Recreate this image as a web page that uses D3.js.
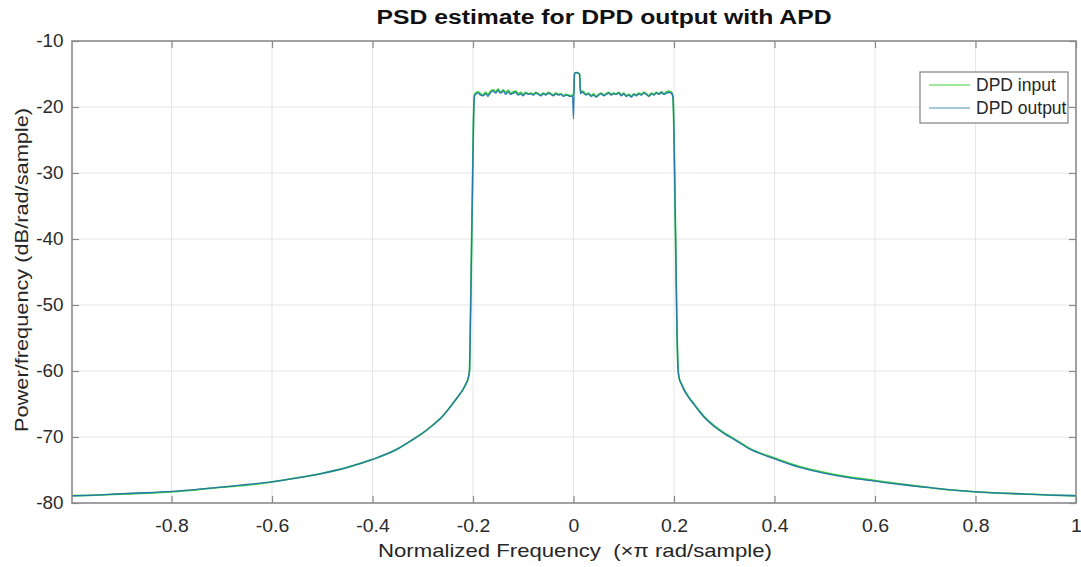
<!DOCTYPE html>
<html>
<head>
<meta charset="utf-8">
<script src="https://cdn.jsdelivr.net/npm/d3@7"></script>
<style>
  html, body { margin: 0; padding: 0; background: #fff; }
  svg { display: block; }
  text { font-family: "Liberation Sans", Arial, Helvetica, sans-serif; }
</style>
</head>
<body>
<svg id="chart" width="1081" height="567"></svg>
<script>
// ---------------- data ----------------
const chartTitle = "PSD estimate for DPD output with APD";
const xLabel = "Normalized Frequency  (\u00D7\u03C0 rad/sample)";
const yLabel = "Power/frequency (dB/rad/sample)";
const seriesNames = ["DPD input", "DPD output"];
const xTicks = [-0.8, -0.6, -0.4, -0.2, 0, 0.2, 0.4, 0.6, 0.8, 1];
const yTicks = [-80, -70, -60, -50, -40, -30, -20, -10];

// normalized frequency (x pi rad/sample)
const freq = [
  -0.998, -0.95, -0.9, -0.85, -0.8, -0.75, -0.7, -0.65, -0.6, -0.55, -0.5, -0.45, -0.4, -0.35,
  -0.32, -0.3, -0.28, -0.26, -0.25, -0.24, -0.23, -0.22, -0.215, -0.21, -0.207, -0.205, -0.203, -0.201, -0.199, -0.197,
  -0.195, -0.19, -0.185, -0.18, -0.175, -0.17, -0.165, -0.16, -0.155, -0.15, -0.145, -0.14, -0.135, -0.13,
  -0.125, -0.12, -0.115, -0.11, -0.105, -0.1, -0.095, -0.09, -0.085, -0.08, -0.075, -0.07, -0.065, -0.06,
  -0.055, -0.05, -0.045, -0.04, -0.035, -0.03, -0.025, -0.02, -0.015, -0.01, -0.005, -0.002, 0.0,
  0.002, 0.004, 0.007, 0.010, 0.012, 0.014, 0.017, 0.02, 0.025, 0.03, 0.035, 0.04, 0.045, 0.05, 0.055,
  0.06, 0.065, 0.07, 0.075, 0.08, 0.085, 0.09, 0.095, 0.1, 0.105, 0.11, 0.115, 0.12, 0.125, 0.13,
  0.135, 0.14, 0.145, 0.15, 0.155, 0.16, 0.165, 0.17, 0.175, 0.18, 0.185, 0.19, 0.195,
  0.198, 0.2, 0.202, 0.204, 0.206, 0.208, 0.21, 0.215, 0.22, 0.23, 0.24, 0.25, 0.26, 0.28, 0.3, 0.32,
  0.35, 0.4, 0.45, 0.5, 0.55, 0.6, 0.65, 0.7, 0.75, 0.8, 0.85, 0.9, 0.95, 1.0
];

// PSD of DPD input (dB/rad/sample)
const psdInput = [
  -78.9, -78.8, -78.65, -78.5, -78.3, -78.0, -77.6, -77.3, -76.8, -76.2, -75.5, -74.6, -73.4, -71.8,
  -70.4, -69.4, -68.2, -66.8, -65.9, -64.9, -63.9, -62.8, -62.1, -61.2, -60.0, -52.0, -42.0, -32.0, -22.0, -18.2,
  -17.9, -17.7, -18.0, -18.2, -17.8, -18.1, -17.6, -17.4, -17.7, -17.3, -17.8, -17.4, -17.8, -17.5,
  -17.9, -17.7, -17.6, -18.0, -17.8, -18.1, -17.8, -18.0, -17.9, -18.1, -17.8, -18.0, -18.2, -17.9,
  -18.1, -17.8, -18.0, -18.2, -17.9, -18.1, -18.0, -18.3, -18.1, -18.2, -18.3, -18.2, -18.2,
  -15.0, -14.8, -14.8, -14.9, -15.0, -17.9, -17.6, -17.7, -18.1, -17.9, -18.3, -18.0, -18.4, -18.1, -17.9,
  -18.2, -18.0, -17.8, -18.1, -17.9, -18.0, -17.8, -18.2, -17.9, -18.3, -18.1, -18.4, -18.0, -18.2, -17.9,
  -18.1, -17.8, -18.0, -18.3, -17.9, -18.1, -17.8, -18.0, -17.7, -18.0, -17.7, -17.6, -17.8,
  -18.5, -24.0, -34.0, -44.0, -54.0, -59.5, -61.0, -62.0, -62.8, -64.0, -65.0, -66.0, -66.9, -68.3, -69.4, -70.3,
  -71.7, -73.2, -74.5, -75.4, -76.1, -76.6, -77.1, -77.6, -78.0, -78.3, -78.5, -78.65, -78.8, -78.9
];

// PSD of DPD output (dB/rad/sample)
const psdOutput = [
  -78.9, -78.8, -78.6, -78.45, -78.25, -77.95, -77.6, -77.2, -76.8, -76.2, -75.5, -74.6, -73.4, -71.8,
  -70.4, -69.4, -68.2, -66.8, -65.9, -64.9, -63.9, -62.8, -62.1, -61.2, -60.0, -52.0, -42.0, -32.0, -22.0, -18.3,
  -18.1, -17.9, -18.2, -18.3, -18.0, -18.4, -17.8, -17.6, -17.9, -17.5, -17.9, -17.6, -18.1, -17.7,
  -18.1, -17.9, -17.8, -18.2, -18.0, -18.3, -17.9, -18.1, -18.0, -18.2, -17.9, -18.1, -18.3, -18.0,
  -18.2, -17.9, -18.1, -18.3, -18.0, -18.2, -18.1, -18.4, -18.2, -18.3, -18.4, -18.3, -21.8,
  -15.0, -14.8, -14.8, -14.9, -15.0, -18.0, -17.7, -17.9, -18.2, -18.0, -18.4, -18.2, -18.5, -18.2, -18.0,
  -18.3, -18.1, -17.9, -18.2, -18.0, -18.1, -17.9, -18.3, -18.0, -18.4, -18.2, -18.5, -18.1, -18.3, -18.0,
  -18.2, -17.9, -18.1, -18.4, -18.0, -18.2, -17.9, -18.1, -17.8, -18.1, -17.9, -17.8, -17.9,
  -18.6, -24.0, -34.0, -44.0, -54.0, -59.5, -61.0, -62.0, -62.9, -64.1, -65.1, -66.1, -67.0, -68.4, -69.5, -70.4,
  -71.8, -73.3, -74.6, -75.5, -76.2, -76.7, -77.2, -77.6, -78.0, -78.3, -78.5, -78.65, -78.8, -78.9
];

// ---------------- chart ----------------
const plot = { left: 72, right: 1076, top: 41, bottom: 503 };
const svg = d3.select("#chart");

const x = d3.scaleLinear().domain([-0.998, 1]).range([plot.left, plot.right]);
const y = d3.scaleLinear().domain([-80, -10]).range([plot.bottom, plot.top]);

const gridColor = "#e6e6e6";
const axisColor = "#8a8a8a";
const tickTextColor = "#2b2b2b";

// grid
const grid = svg.append("g");
grid.selectAll("line.vx").data(xTicks.filter(d => d < 1)).enter().append("line")
  .attr("x1", d => x(d)).attr("x2", d => x(d))
  .attr("y1", plot.top).attr("y2", plot.bottom)
  .attr("stroke", gridColor).attr("stroke-width", 1);
grid.selectAll("line.hy").data(yTicks.filter(d => d > -80 && d < -10)).enter().append("line")
  .attr("x1", plot.left).attr("x2", plot.right)
  .attr("y1", d => y(d)).attr("y2", d => y(d))
  .attr("stroke", gridColor).attr("stroke-width", 1);

// series
const rows = freq.map((f, i) => ({ f, a: psdInput[i], b: psdOutput[i] }));
const lineA = d3.line().x(d => x(d.f)).y(d => y(d.a)).curve(d3.curveMonotoneX);
const lineB = d3.line().x(d => x(d.f)).y(d => y(d.b)).curve(d3.curveMonotoneX);
svg.append("clipPath").attr("id", "clip").append("rect")
  .attr("x", plot.left).attr("y", plot.top)
  .attr("width", plot.right - plot.left).attr("height", plot.bottom - plot.top);
const colors = ["#3dcc48", "#2574ac"];
svg.append("path").datum(rows).attr("d", lineA)
  .attr("fill", "none").attr("stroke", colors[0]).attr("stroke-width", 1.8)
  .attr("clip-path", "url(#clip)");
svg.append("path").datum(rows).attr("d", lineB)
  .attr("fill", "none").attr("stroke", colors[1]).attr("stroke-width", 1.3)
  .attr("stroke-opacity", 0.95)
  .attr("clip-path", "url(#clip)");

// axes (MATLAB-style box with inward ticks)
const tickLen = 7;
const fmt = d => String(d);
const xAxisB = d3.axisBottom(x).tickValues(xTicks).tickSize(-tickLen).tickPadding(16).tickFormat(fmt);
const xAxisT = d3.axisTop(x).tickValues(xTicks).tickSize(-tickLen).tickFormat("");
const yAxisL = d3.axisLeft(y).tickValues(yTicks).tickSize(-tickLen).tickPadding(8).tickFormat(fmt);
const yAxisR = d3.axisRight(y).tickValues(yTicks).tickSize(-tickLen).tickFormat("");

function styleAxis(g, sx) {
  g.select(".domain").remove();
  g.selectAll(".tick line").attr("stroke", axisColor).attr("stroke-width", 1.2);
  g.selectAll(".tick text").attr("fill", tickTextColor).attr("font-size", 18)
    .attr("font-family", "Liberation Sans, Arial, sans-serif")
    .attr("transform", `scale(${sx},1)`);
}
svg.append("g").attr("transform", `translate(0,${plot.bottom})`).call(xAxisB).call(styleAxis, 1.08);
svg.append("g").attr("transform", `translate(0,${plot.top})`).call(xAxisT).call(styleAxis, 1);
svg.append("g").attr("transform", `translate(${plot.left},0)`).call(yAxisL).call(styleAxis, 1.05);
svg.append("g").attr("transform", `translate(${plot.right},0)`).call(yAxisR).call(styleAxis, 1);

svg.append("rect")
  .attr("x", plot.left).attr("y", plot.top)
  .attr("width", plot.right - plot.left).attr("height", plot.bottom - plot.top)
  .attr("fill", "none").attr("stroke", axisColor).attr("stroke-width", 1.6);

// title & labels
svg.append("text").attr("x", 604).attr("y", 24)
  .attr("text-anchor", "middle").attr("font-size", 20).attr("font-weight", "bold")
  .attr("textLength", 455).attr("lengthAdjust", "spacingAndGlyphs")
  .attr("fill", "#111").text(chartTitle);
svg.append("text").attr("x", 575).attr("y", 557)
  .attr("text-anchor", "middle").attr("font-size", 19)
  .attr("textLength", 394).attr("lengthAdjust", "spacingAndGlyphs")
  .style("white-space", "pre")
  .attr("fill", "#262626").text(xLabel);
svg.append("text").attr("transform", `translate(28,270) rotate(-90)`)
  .attr("text-anchor", "middle").attr("font-size", 19)
  .attr("textLength", 324).attr("lengthAdjust", "spacingAndGlyphs")
  .attr("fill", "#262626").text(yLabel);

// legend
const lg = svg.append("g");
lg.append("rect").attr("x", 920).attr("y", 72).attr("width", 148).attr("height", 51)
  .attr("fill", "#fff").attr("stroke", "#8a8a8a").attr("stroke-width", 1.3);
seriesNames.forEach((name, i) => {
  const yy = 85 + i * 23;
  lg.append("line").attr("x1", 929).attr("x2", 970).attr("y1", yy).attr("y2", yy)
    .attr("stroke", i === 0 ? "#7ee07e" : "#86b4cf").attr("stroke-width", 1.5);
  lg.append("text").attr("x", 976).attr("y", yy + 6).attr("font-size", 17.5)
    .attr("fill", "#262626").text(name);
});
</script>
</body>
</html>
